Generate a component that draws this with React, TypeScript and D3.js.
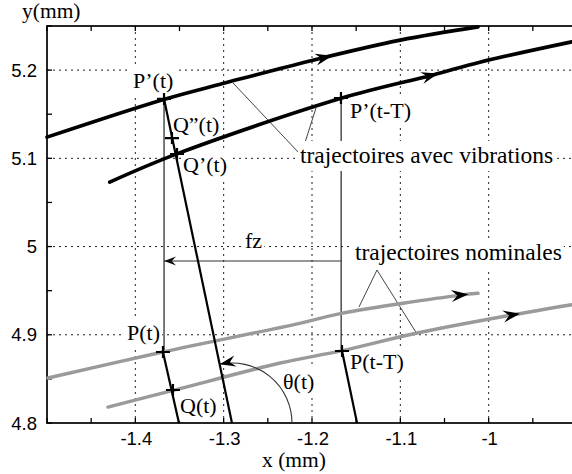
import React, { useEffect, useRef } from 'react';
import * as d3 from 'd3';

const W = 572;
const H = 474;
const xDomain: [number, number] = [-1.5, -0.9];
const yDomain: [number, number] = [4.8, 5.25];
const xTickLabels = [-1.4, -1.3, -1.2, -1.1, -1];
const yTickLabels = [4.8, 4.9, 5, 5.1, 5.2];
const xGrid = [-1.4, -1.3, -1.2, -1.1, -1.0];
const yGrid = [4.9, 5.0, 5.1, 5.2];

type P = [number, number];

// trajectories with vibrations (black)
const vibUpper: P[] = [[-1.5, 5.124], [-1.367, 5.167], [-1.3, 5.185], [-1.2, 5.211], [-1.1, 5.234], [-1.012, 5.249]];
const vibLower: P[] = [[-1.429, 5.073], [-1.353, 5.105], [-1.167, 5.168], [-1.063, 5.1945], [-1.01, 5.209], [-0.906, 5.232]];
// nominal trajectories (grey)
const nomUpper: P[] = [[-1.499, 4.851], [-1.369, 4.8805], [-1.214, 4.913], [-1.168, 4.924], [-1.032, 4.945], [-1.012, 4.947]];
const nomLower: P[] = [[-1.431, 4.818], [-1.357, 4.837], [-1.236, 4.868], [-1.166, 4.882], [-1.081, 4.902], [-0.976, 4.922], [-0.906, 4.934]];

// arrow tip x positions on each trajectory
const arrowTipsX = [-1.177, -1.057, -1.023, -0.9645];

// marked points (+)
const crossPts: P[] = [[-1.3675, 5.1673], [-1.3585, 5.123], [-1.3528, 5.1049], [-1.1672, 5.1684], [-1.3687, 4.8805], [-1.3574, 4.8374], [-1.166, 4.8816]];

// thin vertical lines [x, yTop, yBottom]
const vertLines: [number, number, number][] = [[-1.3675, 5.1673, 4.8805], [-1.167, 5.1684, 4.8816]];

// slanted tool lines
const slantLines: [P, P][] = [
  [[-1.3675, 5.1673], [-1.2906, 4.8]],
  [[-1.3687, 4.8805], [-1.3506, 4.8]],
  [[-1.166, 4.8816], [-1.149, 4.8]],
];

// fz arrow [xFrom, xTo, y]
const fzArrow: [number, number, number] = [-1.167, -1.3675, 4.9836];

// leader lines
const leaders: [P, P][] = [
  [[-1.2894, 5.1854], [-1.2158, 5.1072]],
  [[-1.1955, 5.157], [-1.2113, 5.1072]],
  [[-1.1264, 4.9734], [-1.1468, 4.9315]],
  [[-1.1264, 4.9734], [-1.0811, 4.9009]],
];

// text labels [text, x, y, size]
const labels: [string, number, number, number][] = [
  ["P\u2019(t)", -1.4026, 5.1797, 22],
  ["Q\u201D(t)", -1.3574, 5.1299, 22],
  ["Q\u2019(t)", -1.346, 5.0845, 22],
  ["P\u2019(t-T)", -1.157, 5.1457, 22],
  ["P(t)", -1.4094, 4.8941, 22],
  ["Q(t)", -1.3494, 4.8113, 22],
  ["P(t-T)", -1.157, 4.8612, 22],
  ["\u03B8(t)", -1.2328, 4.8385, 22],
  ["fz", -1.2758, 4.9984, 22],
  ["trajectoires avec vibrations", -1.2136, 5.0947, 23.5],
  ["trajectoires nominales", -1.1513, 4.9848, 23.5],
];

const SERIF = "'Liberation Serif', 'Times New Roman', serif";
const SANS = "'Liberation Sans', Arial, sans-serif";

export default function App() {
  const ref = useRef<SVGSVGElement>(null);
  useEffect(() => {
    const svg = d3.select(ref.current);
    svg.selectAll('*').remove();
    const x = d3.scaleLinear().domain(xDomain).range([47, 577]);
    const y = d3.scaleLinear().domain(yDomain).range([423, 26]);
    const [x0, x1] = x.range();
    const [y0, y1] = y.range();

    svg.append('rect').attr('x', 0).attr('y', 0).attr('width', W).attr('height', H).attr('fill', '#fff');

    // grid
    const grid = svg.append('g').attr('stroke', '#222').attr('stroke-width', 1).attr('stroke-dasharray', '2,4');
    xGrid.forEach(v => grid.append('line').attr('x1', x(v)).attr('x2', x(v)).attr('y1', y1).attr('y2', y0));
    yGrid.forEach(v => grid.append('line').attr('y1', y(v)).attr('y2', y(v)).attr('x1', x0).attr('x2', x1));

    // frame
    svg.append('rect').attr('x', x0).attr('y', y1).attr('width', x1 - x0).attr('height', y0 - y1)
      .attr('fill', 'none').attr('stroke', '#000').attr('stroke-width', 1.7);

    // ticks (inward)
    const tg = svg.append('g').attr('stroke', '#000').attr('stroke-width', 1.3);
    x.ticks(12).forEach(v => {
      tg.append('line').attr('x1', x(v)).attr('x2', x(v)).attr('y1', y0).attr('y2', y0 - 5);
      tg.append('line').attr('x1', x(v)).attr('x2', x(v)).attr('y1', y1).attr('y2', y1 + 5);
    });
    y.ticks(9).forEach(v => {
      tg.append('line').attr('y1', y(v)).attr('y2', y(v)).attr('x1', x0).attr('x2', x0 + 5);
      tg.append('line').attr('y1', y(v)).attr('y2', y(v)).attr('x1', x1).attr('x2', x1 - 5);
    });

    // tick labels
    xTickLabels.forEach(v => svg.append('text').attr('x', x(v) + 1).attr('y', 445).attr('text-anchor', 'middle')
      .attr('font-family', SANS).attr('font-size', 18.5).attr('fill', '#000').text(String(v)));
    yTickLabels.forEach(v => svg.append('text').attr('x', 37).attr('y', y(v) + 6.5).attr('text-anchor', 'end')
      .attr('font-family', SANS).attr('font-size', 18.5).attr('fill', '#000').text(String(v)));

    // axis titles
    svg.append('text').attr('x', 22).attr('y', 18).attr('font-family', SERIF).attr('font-size', 21.5).attr('fill', '#000').text('y(mm)');
    svg.append('text').attr('x', 262).attr('y', 467).attr('font-family', SERIF).attr('font-size', 21.5).attr('fill', '#000').text('x (mm)');

    // thin vertical lines
    vertLines.forEach(([vx, ya, yb]) => svg.append('line').attr('x1', x(vx)).attr('x2', x(vx)).attr('y1', y(ya)).attr('y2', y(yb))
      .attr('stroke', '#222').attr('stroke-width', 1.2));

    // fz arrow
    const arrowPath = (L: number, Wd: number) => `M0,0L${-L},${-Wd}L${-0.65 * L},0L${-L},${Wd}Z`;
    svg.append('line').attr('x1', x(fzArrow[0])).attr('x2', x(fzArrow[1])).attr('y1', y(fzArrow[2])).attr('y2', y(fzArrow[2]))
      .attr('stroke', '#333').attr('stroke-width', 1.1);
    svg.append('path').attr('d', arrowPath(12, 4.5)).attr('fill', '#111')
      .attr('transform', `translate(${x(fzArrow[1])},${y(fzArrow[2])}) rotate(180)`);

    // leaders
    leaders.forEach(([a, b]) => svg.append('line').attr('x1', x(a[0])).attr('y1', y(a[1])).attr('x2', x(b[0])).attr('y2', y(b[1]))
      .attr('stroke', '#444').attr('stroke-width', 1));

    // text backgrounds
    const bgLayer = svg.append('g');

    // curves
    const line = d3.line<P>().x(d => x(d[0])).y(d => y(d[1])).curve(d3.curveCatmullRom.alpha(0.5));
    const curves: { pts: P[]; color: string; w: number }[] = [
      { pts: nomUpper, color: '#9a9a9a', w: 3.4 },
      { pts: nomLower, color: '#9a9a9a', w: 3.4 },
      { pts: vibUpper, color: '#000', w: 3.6 },
      { pts: vibLower, color: '#000', w: 3.6 },
    ];
    curves.forEach(c => svg.append('path').attr('d', line(c.pts)).attr('fill', 'none').attr('stroke', c.color)
      .attr('stroke-width', c.w).attr('stroke-linecap', 'round'));
    [vibUpper, vibLower, nomUpper, nomLower].forEach((pts, i) => {
      const tx = arrowTipsX[i];
      let k = 0;
      while (k < pts.length - 2 && pts[k + 1][0] < tx) k++;
      const a = pts[k], b = pts[k + 1];
      const t = (tx - a[0]) / (b[0] - a[0]);
      const ty = a[1] + t * (b[1] - a[1]);
      const ang = Math.atan2(y(b[1]) - y(a[1]), x(b[0]) - x(a[0])) * 180 / Math.PI;
      svg.append('path').attr('d', arrowPath(17, 6)).attr('fill', '#000')
        .attr('transform', `translate(${x(tx)},${y(ty)}) rotate(${ang})`);
    });

    // slanted lines
    slantLines.forEach(([a, b]) => svg.append('line').attr('x1', x(a[0])).attr('y1', y(a[1])).attr('x2', x(b[0])).attr('y2', y(b[1]))
      .attr('stroke', '#000').attr('stroke-width', 2.2));

    // theta arc
    const foot = slantLines[0][1], top = slantLines[0][0];
    const fx = x(foot[0]), fy = y(foot[1]);
    const dx = x(top[0]) - fx, dy = y(top[1]) - fy;
    const len = Math.hypot(dx, dy);
    const r = 60;
    const ex = fx + r * dx / len, ey = fy + r * dy / len;
    svg.append('path').attr('d', `M${fx + r},${fy}A${r},${r} 0 0 0 ${ex},${ey}`).attr('fill', 'none')
      .attr('stroke', '#333').attr('stroke-width', 1.1);
    const phi = Math.atan2(-dy, dx);
    const tAng = Math.atan2(-Math.cos(phi), -Math.sin(phi)) * 180 / Math.PI;
    svg.append('path').attr('d', arrowPath(16, 5.5)).attr('fill', '#000')
      .attr('transform', `translate(${ex},${ey}) rotate(${tAng})`);

    // crosses
    crossPts.forEach(([cx, cy]) => {
      const px = x(cx), py = y(cy);
      svg.append('path').attr('d', `M${px - 7},${py}H${px + 7}M${px},${py - 6}V${py + 6}`)
        .attr('stroke', '#000').attr('stroke-width', 2.2);
    });

    // labels with white background
    labels.forEach(([txt, lx, ly, fs]) => {
      const t = svg.append('text').attr('x', x(lx)).attr('y', y(ly)).attr('font-family', SERIF)
        .attr('font-size', fs).attr('fill', '#000').text(txt);
      const bb = (t.node() as SVGTextElement).getBBox();
      bgLayer.append('rect').attr('x', bb.x - 2).attr('y', bb.y - 1).attr('width', bb.width + 4).attr('height', bb.height + 4)
        .attr('fill', '#fff');
    });
  }, []);
  return <svg ref={ref} width={W} height={H} style={{ position: 'absolute', left: 0, top: 0, display: 'block' }} />;
}
